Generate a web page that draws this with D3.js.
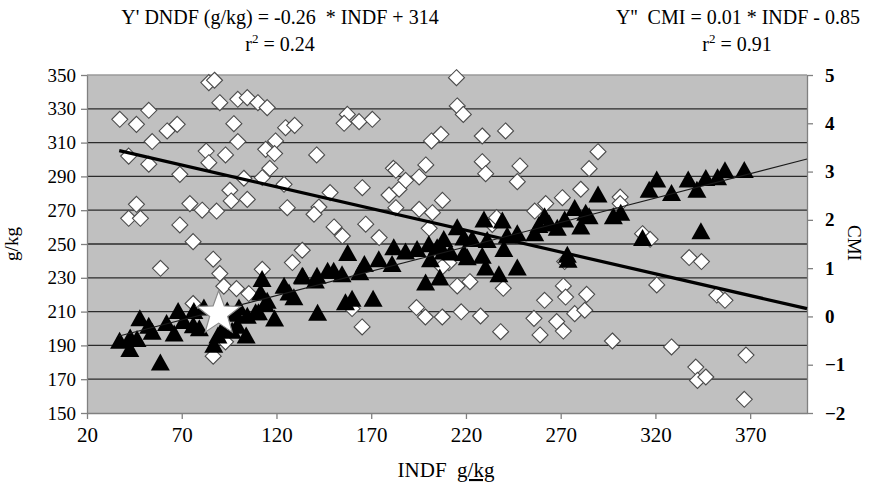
<!DOCTYPE html>
<html><head><meta charset="utf-8">
<script src="https://cdn.jsdelivr.net/npm/d3@7/dist/d3.min.js"></script>
<style>
html,body{margin:0;padding:0;background:#fff;}
svg{display:block;}
text{font-family:"Liberation Serif","Times New Roman",serif;fill:#000;white-space:pre;}
</style></head>
<body><svg id="chart" width="869" height="482"></svg>
<script>
// ---- data ----
const xTicks = [20,70,120,170,220,270,320,370];
const leftTicks = [150,170,190,210,230,250,270,290,310,330,350];
const rightTicks = [-2,-1,0,1,2,3,4,5];
const xDomain = [20,400];
const leftDomain = [150,350];
const rightDomain = [-2,5];

// DNDF (g/kg) vs INDF : open diamonds
const dndfPoints = [
[37.3,323.8],[46.1,320.8],[52.6,329.1],[54.4,310.6],[62.3,316.9],[67.6,320.8],[42,302],[52.6,297.2],[69,291.2],
[84.3,345.5],[87.3,346.9],[90.1,333.6],[97.5,321.2],[99.6,310.6],[99.6,335.6],[104.6,336.6],[110.2,333.6],[115.1,330.7],
[82.9,305],[84.3,298.1],[93.1,302.7],[114.3,306],[119.5,311],[119,303.5],[116.5,294.8],[112.5,289.3],[102.8,288.9],
[124,285.3],[124.8,318.8],[129.6,320.2],[141.2,302.7],[157.4,326.7],[155.7,321.4],[163.6,322.4],[170.6,323.8],
[95.4,281.8],[96.1,275.5],[104.6,276.4],[46.1,273.5],[42,265.2],[48.2,265.2],[74.3,273.9],[80.8,270],[88.4,269.5],
[69,261.3],[76,251.4],[125.7,271.5],[142.4,271.9],[139.8,267.6],[148.3,280.4],[165.3,283.3],[150.4,260.1],[154.8,254.7],
[167.1,261.7],[174.2,253.8],[179.4,279],[181.7,294.8],[183,293.6],[184.7,282.4],[188.2,287.7],[195.3,289.7],[198.8,296.8],
[201.8,311],[206.8,314.9],[183,271.5],[195.3,270.5],[202.3,268.5],[200.6,259.3],[207.6,275.8],[133.6,246.3],[128.4,239],
[112.5,235],[86.6,241],[58.8,235.6],[90.1,232.5],[215,348.4],[215.4,331.7],[218.6,326.7],[228.6,313.9],[240.9,316.9],
[228.6,298.7],[230.4,291.6],[248.5,296.2],[247.1,286.9],[289.7,304.6],[285,294.6],[280.6,282.4],[270.9,277.4],[262.1,273.9],
[256.3,269.5],[301.4,277.8],[301.4,273.9],[313.2,256.1],[317.2,252.8],[233.9,261.6],[236.2,265.6],[211,238.9],[207.5,236.4],
[215.4,225.2],[222.1,227.7],[239.7,223.8],[198.6,206.8],[207.5,206.8],[217.5,209.9],[227.7,207.4],[238.3,198.1],[255.9,206],
[259.1,196.2],[261.5,216.7],[267.9,204.1],[271.4,198.5],[271.4,225.2],[272.6,218.6],[277.4,208.8],[282.7,210.8],[283.7,220.2],
[272.1,239.6],[297.3,192.6],[320.7,225.8],[328.5,189.1],[337.8,242],[344.3,239.6],[352.4,219.8],[356.7,216.7],[341.3,177.2],
[342.2,169.3],[346.6,171.3],[367.8,184.3],[366.9,158.1],[193.9,212.4],[165.2,200.9],[159.9,211.8],[92.2,225],[98.9,223.6],
[105.4,220.7],[76,214.8],[93.1,192.1],[86.6,183.6]
];

// CMI vs INDF : filled triangles
const cmiPoints = [
[37.2,-0.53],[42.6,-0.70],[42.8,-0.46],[46.4,-0.49],[47.9,-0.06],[52.6,-0.22],[54.4,-0.34],[58.7,-0.98],[62,-0.16],
[66,-0.38],[68.1,0.09],[71,-0.12],[76.1,-0.21],[76.4,0.09],[79.3,-0.27],[81.7,0.16],[86.9,-0.61],[89.1,-0.42],[91.4,-0.29],
[96.6,-0.32],[99.3,-0.22],[98.4,0.03],[104.6,-0.01],[104,-0.42],[109,0.06],[111.6,0.47],[112.4,0.75],[115.1,0.30],[119,-0.07],
[124,0.61],[126.6,0.47],[129.2,0.37],[133.6,0.82],[100.2,0.16],[94,0.1],[110.5,0.06],[114,0.23],
[134,0.80],[141.4,0.82],[141.7,0.05],[140.5,0.72],[147,0.92],[150.2,0.92],[154.6,0.85],[157.6,1.29],[156.4,0.27],[159.9,0.34],
[164,0.89],[166.4,1.06],[171,0.34],[174,1.16],[181,1.06],[181.9,1.41],[188.1,1.32],[194.2,1.37],[198.7,0.68],[200.4,1.47],
[204.8,1.41],[206.2,0.78],[208.3,1.58],[211.9,1.30],[215.4,1.82],[218.9,1.61],[223.3,1.58],[228.6,1.23],[229.5,1.98],
[230.4,0.99],[237.4,0.85],[239.2,1.96],[240,1.37],[241.8,1.65],[247.1,0.99],[201.3,1.16],[220.7,1.2],[218.9,1.29],
[231.2,1.56],[247.1,1.70],[256.3,1.70],[258.5,1.87],[261.5,2.05],[264,1.9],[268.2,1.81],[272.1,1.98],[273.5,1.25],[277.4,2.22],
[280.6,1.84],[283.2,2.12],[285,2.05],[289.7,2.50],[297.8,2.05],[301.7,2.12],[313.2,1.60],[316.7,2.60],[320.7,2.81],
[328.5,2.53],[337.3,2.81],[341.9,2.60],[346.6,2.84],[352.8,2.86],[356.7,3.0],[366.9,3.01],[344,1.74],[273.9,1.15],[208,1.32]
];

// highlighted sample (star), DNDF axis
const starPoint = [[89.5,210]];

// trend lines as drawn: [slope, intercept, xStart, xEnd]
const dndfTrend = [-0.2576, 314.8, 37, 400];
const cmiTrend = [0.0101, -0.78, 37, 400];

const titleLeft = ["Y' DNDF (g/kg) = -0.26  * INDF + 314", "0.24"];
const titleRight = ["Y''  CMI = 0.01 * INDF - 0.85", "0.91"];

// ---- drawing ----
const svg = d3.select("#chart");
const L = 87, R = 807, T = 75, B = 413;
const x = d3.scaleLinear(xDomain, [L, R]);
const yL = d3.scaleLinear(leftDomain, [B, T]);
const yR = d3.scaleLinear(rightDomain, [B, T]);

svg.append("rect").attr("x", L).attr("y", T).attr("width", R - L).attr("height", B - T)
  .attr("fill", "#c0c0c0");

// gridlines (left axis)
svg.append("g").selectAll("line").data(leftTicks.filter(v => v > 150 && v < 350)).join("line")
  .attr("x1", L).attr("x2", R).attr("y1", d => yL(d)).attr("y2", d => yL(d))
  .attr("stroke", "#2b2b2b").attr("stroke-width", 1.3);
// top border
svg.append("line").attr("x1", L).attr("x2", R).attr("y1", T).attr("y2", T)
  .attr("stroke", "#9a9a9a").attr("stroke-width", 1.3);

function styleAxis(g) {
  g.select(".domain").attr("stroke", "#808080").attr("stroke-width", 1.3);
  g.selectAll(".tick line").attr("stroke", "#808080").attr("stroke-width", 1.3);
}

const gx = svg.append("g").attr("transform", `translate(0,${B})`)
  .call(d3.axisBottom(x).tickValues(xTicks).tickSize(6).tickSizeOuter(0).tickPadding(8));
styleAxis(gx);
gx.selectAll(".tick text").attr("font-size", 21).attr("fill", "#000");

const gl = svg.append("g").attr("transform", `translate(${L},0)`)
  .call(d3.axisLeft(yL).tickValues(leftTicks).tickSize(6).tickSizeOuter(0).tickPadding(5));
styleAxis(gl);
gl.selectAll(".tick text").attr("font-size", 19).attr("fill", "#000");

const gr = svg.append("g").attr("transform", `translate(${R},0)`)
  .call(d3.axisRight(yR).tickValues(rightTicks).tickSize(6).tickSizeOuter(0).tickPadding(12)
    .tickFormat(d => d < 0 ? "\u2212" + Math.abs(d) : d));
styleAxis(gr);
gr.selectAll(".tick text").attr("font-size", 19).attr("font-weight", "bold").attr("fill", "#000");

// diamonds
const ds = 8;
svg.append("g").selectAll("path").data(dndfPoints).join("path")
  .attr("d", d => { const cx = x(d[0]), cy = yL(d[1]);
    return `M${cx},${cy - ds}L${cx + ds},${cy}L${cx},${cy + ds}L${cx - ds},${cy}Z`; })
  .attr("fill", "#fff").attr("stroke", "#4a4a4a").attr("stroke-width", 1.1);

// DNDF trend (thick)
svg.append("line")
  .attr("x1", x(dndfTrend[2])).attr("y1", yL(dndfTrend[0] * dndfTrend[2] + dndfTrend[1]))
  .attr("x2", x(dndfTrend[3])).attr("y2", yL(dndfTrend[0] * dndfTrend[3] + dndfTrend[1]))
  .attr("stroke", "#000").attr("stroke-width", 3.2);

// triangles
const tw = 9.5, th = 17;
svg.append("g").selectAll("path").data(cmiPoints).join("path")
  .attr("d", d => { const cx = x(d[0]), cy = yR(d[1]);
    return `M${cx},${cy - th * 0.6}L${cx + tw},${cy + th * 0.4}L${cx - tw},${cy + th * 0.4}Z`; })
  .attr("fill", "#000");

// CMI trend (thin)
svg.append("line")
  .attr("x1", x(cmiTrend[2])).attr("y1", yR(cmiTrend[0] * cmiTrend[2] + cmiTrend[1]))
  .attr("x2", x(cmiTrend[3])).attr("y2", yR(cmiTrend[0] * cmiTrend[3] + cmiTrend[1]))
  .attr("stroke", "#1a1a1a").attr("stroke-width", 1.1);

// star (5 points, outer radius 23, inner 9.5)
function starPath(ro, ri) {
  const pts = [];
  for (let i = 0; i < 10; i++) {
    const a = -Math.PI / 2 + i * Math.PI / 5, r = i % 2 ? ri : ro;
    pts.push([r * Math.cos(a), r * Math.sin(a)]);
  }
  return d3.line()(pts) + "Z";
}
svg.append("g").selectAll("path").data(starPoint).join("path")
  .attr("transform", d => `translate(${x(d[0])},${yL(d[1]) + 2})`)
  .attr("d", starPath(23, 9.5)).attr("fill", "#fff").attr("stroke", "#8a8a8a").attr("stroke-width", 1.2);

// titles
svg.append("text").attr("x", 280).attr("y", 24).attr("text-anchor", "middle").attr("font-size", 20)
  .text(titleLeft[0]);
const r1 = svg.append("text").attr("x", 280).attr("y", 51).attr("text-anchor", "middle").attr("font-size", 20);
r1.append("tspan").text("r");
r1.append("tspan").attr("dy", -8).attr("font-size", 13).text("2");
r1.append("tspan").attr("dy", 8).text(" = " + titleLeft[1]);

svg.append("text").attr("x", 738).attr("y", 24).attr("text-anchor", "middle").attr("font-size", 20)
  .text(titleRight[0]);
const r2 = svg.append("text").attr("x", 737).attr("y", 51).attr("text-anchor", "middle").attr("font-size", 20);
r2.append("tspan").text("r");
r2.append("tspan").attr("dy", -8).attr("font-size", 13).text("2");
r2.append("tspan").attr("dy", 8).text(" = " + titleRight[1]);

// axis titles
const xt = svg.append("text").attr("x", 446).attr("y", 477).attr("text-anchor", "middle").attr("font-size", 21);
xt.append("tspan").text("INDF  ");
xt.append("tspan").attr("text-decoration", "underline").text("g/kg");

svg.append("text").attr("transform", "translate(18,244) rotate(-90)").attr("text-anchor", "middle")
  .attr("font-size", 19).text("g/kg");
svg.append("text").attr("transform", "translate(848,243) rotate(90)").attr("text-anchor", "middle")
  .attr("font-size", 19).text("CMI");
</script></body></html>
